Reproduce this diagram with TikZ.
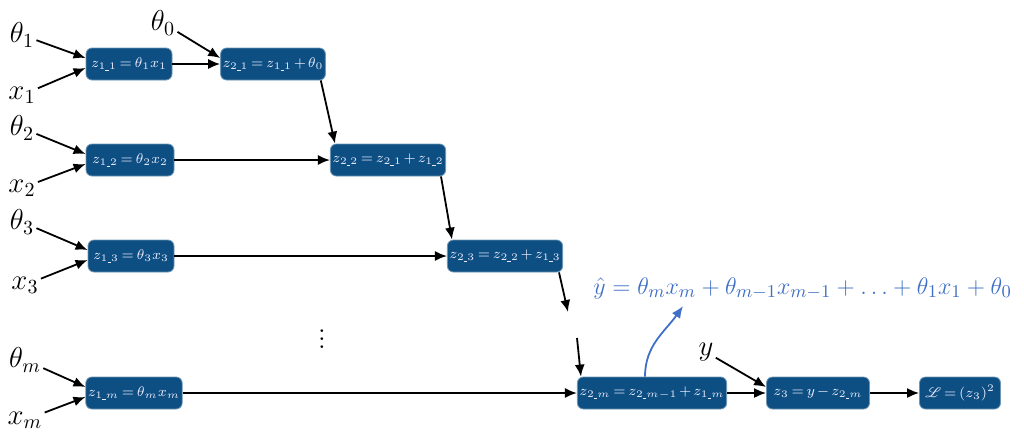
\documentclass[tikz,border=0pt]{standalone}
\usepackage{mathrsfs}
\usetikzlibrary{arrows.meta}

\definecolor{boxblue}{HTML}{0D4F82}
\definecolor{lineblue}{HTML}{3F6FC6}

% short low underscore for the subscripts
\newcommand{\us}{\rule[-0.4pt]{1.8pt}{0.3pt}}
% tighter spacing round = and + inside the boxes
\newcommand{\tightmath}{\thickmuskip=3mu\relax\medmuskip=2mu\relax}

\tikzset{
    blk/.style={fill=boxblue, draw=boxblue!60!white, rounded corners=3pt, text=white!92!blue,
        minimum height=16pt, inner xsep=1pt, inner ysep=1pt,
        font=\fontsize{6.8}{8}\selectfont\tightmath},
    inp/.style={inner sep=1pt, font=\fontsize{14}{16}\selectfont},
    arr/.style={-{Latex[length=6pt,width=5pt]}, line width=0.9pt},
    bluearr/.style={-{Latex[length=6pt,width=5pt]}, line width=0.9pt, lineblue}
}

\begin{document}
\begin{tikzpicture} [x=0.5pt,y=-0.5pt]
    \useasboundingbox (0,0) rectangle (1024,435);

    % first layer: products
    \node[blk, minimum width=43pt] (z11) at (129,64)  {$z_{1\us1}=\theta_1x_1$};
    \node[blk, minimum width=44pt] (z12) at (130,160) {$z_{1\us2}=\theta_2x_2$};
    \node[blk, minimum width=43pt] (z13) at (131,256) {$z_{1\us3}=\theta_3x_3$};
    \node[blk, minimum width=43.5pt] (z1m) at (134,393) {$z_{1\us m}=\theta_mx_m$};

    % second layer: running sums
    \node[blk, minimum width=51.5pt] (z21) at (273,64)  {$z_{2\us1}=z_{1\us1}+\theta_0$};
    \node[blk, minimum width=51.5pt] (z22) at (388,160) {$z_{2\us2}=z_{2\us1}+z_{1\us2}$};
    \node[blk, minimum width=52pt] (z23) at (505,256) {$z_{2\us3}=z_{2\us2}+z_{1\us3}$};
    \node[blk, minimum width=65pt] (z2m) at (652,393) {$z_{2\us m}=z_{2\us m-1}+z_{1\us m}$};

    % loss
    \node[blk, minimum width=51.5pt] (z3)   at (818,393) {$z_3=y-z_{2\us m}$};
    \node[blk, minimum width=40.5pt] (loss) at (960,393) {$\mathscr{L}=(z_3)^2$};

    % inputs
    \node[inp] (t1) at (22,35)  {$\theta_1$};
    \node[inp] (x1) at (22,95)  {$x_1$};
    \node[inp] (t2) at (22,128) {$\theta_2$};
    \node[inp] (x2) at (22,188) {$x_2$};
    \node[inp] (t3) at (22,222) {$\theta_3$};
    \node[inp] (x3) at (25,285) {$x_3$};
    \node[inp] (tm) at (25,360) {$\theta_m$};
    \node[inp] (xm) at (25,420) {$x_m$};
    \node[inp] (t0) at (163,23) {$\theta_0$};
    \node[inp] (y)  at (706,352) {$y$};

    \node[inp] at (322,333) {$\vdots$};

    % inputs into the products
    \draw[arr] (t1) -- ([yshift=3pt]z11.west);
    \draw[arr] (x1) -- ([yshift=-2pt]z11.west);
    \draw[arr] (t2) -- ([yshift=3pt]z12.west);
    \draw[arr] (x2) -- ([yshift=-2pt]z12.west);
    \draw[arr] (t3) -- ([yshift=3pt]z13.west);
    \draw[arr] (x3) -- ([yshift=-2pt]z13.west);
    \draw[arr] (tm) -- ([yshift=3pt]z1m.west);
    \draw[arr] (xm) -- ([yshift=-2pt]z1m.west);
    \draw[arr] (t0) -- ([yshift=3pt]z21.west);
    \draw[arr] (y)  -- ([yshift=3pt]z3.west);

    % horizontal links
    \draw[arr] (z11.east) -- (z21.west);
    \draw[arr] (z12.east) -- (z22.west);
    \draw[arr] (z13.east) -- (z23.west);
    \draw[arr] (z1m.east) -- (z2m.west);
    \draw[arr] (z2m.east) -- (z3.west);
    \draw[arr] (z3.east) -- (loss.west);

    % the chain of sums, broken before the last one
    \draw[arr] ([xshift=-2.5pt]z21.south east) -- ([xshift=2.5pt]z22.north west);
    \draw[arr] ([xshift=-2.5pt]z22.south east) -- ([xshift=2.5pt]z23.north west);
    \coordinate (gapa) at (568,312);
    \coordinate (gapb) at (577,338);
    \draw[arr] ([xshift=-2pt]z23.south east) -- (gapa);
    \draw[arr] (gapb) -- ([xshift=2pt]z2m.north west);

    % prediction
    \node[inp, text=lineblue, anchor=south west, inner sep=0pt, font=\fontsize{13}{15}\selectfont] (yhat) at (593,300)
        {$\hat{y}=\theta_mx_m+\theta_{m-1}x_{m-1}+\ldots+\theta_1x_1+\theta_0$};
    \draw[bluearr] ([xshift=-3.5pt]z2m.north) to[out=90,in=235] ([xshift=45pt,yshift=-3pt]yhat.south west);

\end{tikzpicture}
\end{document}
